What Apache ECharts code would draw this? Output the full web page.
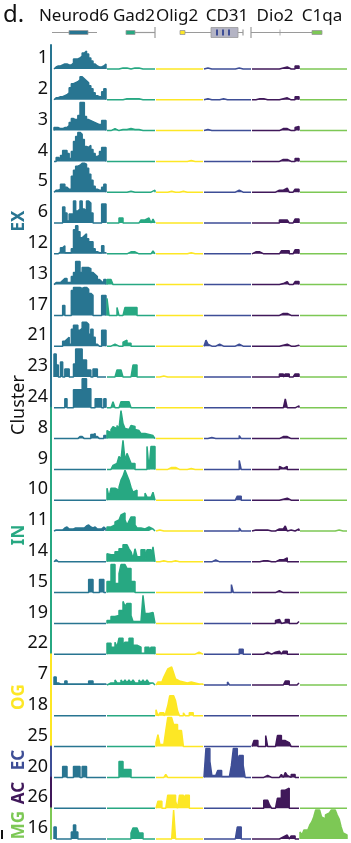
<!DOCTYPE html>
<html><head><meta charset="utf-8">
<script src="https://cdn.jsdelivr.net/npm/echarts@6/dist/echarts.min.js"></script>
<style>html,body{margin:0;padding:0;background:#fff}#c{width:351px;height:843px}</style>
</head><body><div id="c"></div>
<script>
const clusters = ['1','2','3','4','5','6','12','13','17','21','23','24','8','9','10','11','14','15','19','22','7','18','25','20','26','16'];
const rowGroup = ['EX','EX','EX','EX','EX','EX','EX','EX','EX','EX','EX','EX','IN','IN','IN','IN','IN','IN','IN','IN','OG','OG','OG','EC','AC','MG'];
const genes = ['Neurod6','Gad2','Olig2','CD31','Dio2','C1qa'];
const groupLabels = [['EX',221],['IN',535],['OG',697],['EC',760],['AC',793],['MG',825]];

const neurod6 = [
/*1*/ [2,3,3,4,5,5,4,4,6,10,10,11,13,16,18,15,11,8,5,3,2,2,3,5],
/*2*/ [2,2,3,3,4,5,7,12,16,17,18,20,23,21,19,17,14,11,7,4,3,3,8,11],
/*3*/ [3,3,2,2,3,3,5,8,12,11,11,15,28,28,14,11,10,9,8,7,6,6,10,10],
/*4*/ [0,4,2,6,11,11,8,3,10,20,25,29,27,22,15,14,16,12,8,5,6,10,14,14],
/*5*/ [2,2,3,8,8,5,3,3,16,22,26,27,29,29,28,24,18,12,6,3,2,2,5,8],
/*6*/ [0,0,0,0,16,10,2,9,9,22,12,14,22,14,12,22,20,10,0,0,0,0,19,19],
/*12*/ [0,0,2,6,8,1,1,1,5,24,28,22,16,18,20,15,12,12,5,2,1,1,8,1],
/*13*/ [2,2,2,4,6,6,2,2,8,12,23,23,12,17,17,17,16,12,10,8,5,3,2,5],
/*17*/ [0,0,0,0,10,0,0,0,25,28,28,28,27,28,28,26,22,20,0,0,0,0,20,20],
/*21*/ [0,0,0,0,5,7,9,2,17,21,21,16,18,24,24,22,12,17,9,2,0,0,16,16],
/*23*/ [23,12,0,15,0,8,8,0,0,13,28,28,28,17,17,7,7,0,8,8,0,0,0,0],
/*24*/ [0,0,0,0,0,9,0,0,0,18,18,18,18,29,29,19,19,0,0,9,9,9,0,9],
/*8*/ [0,0,0,0,0,0,0,0,0,0,0,2,2,0,0,0,0,4,5,2,0,0,0,3],
/*9*/ [],
/*10*/ [],
/*11*/ [1,1,1,1,3,4,2,2,2,3,3,3,3,3,5,6,4,3,4,2,2,2,4,2],
/*14*/ [2],
/*15*/ [0,0,0,0,0,0,0,0,0,0,0,0,0,0,0,0,13,13,0,0,0,13,13,0],
/*19*/ [],
/*22*/ [],
/*7*/ [8,2,1,1,1,4,1,1,1,1,1,1,1,1,1,1,4,4,1,1,1,1,1,1],
/*18*/ [],
/*25*/ [],
/*20*/ [0,0,0,0,11,11,0,0,0,11,11,11,0,11,11,0,0,0,0,0,0,0,0,0],
/*26*/ [],
/*16*/ [12,0,0,0,0,0,0,0,7,14,7,0,0,0,0,0,0,0,0,0,0,0,0,0]
];

const gad2 = [
/*1*/ [0,0,1,0,1,0,0,1,0,1,1,0,1,1,0,1,0,0,0,0,0,0,0,0],
/*2*/ [0,0,0,0,0,0,1,0,1,1,0,1,1,1,0,1,0,0,0,0,0,0,0,0],
/*3*/ [0,0,1,2,1,0,0,1,1,1,2,2,1,1,0,1,0,0,0,0,0,0,0,0],
/*4*/ [],
/*5*/ [0,0,0,0,0,0,0,0,0,0,0,1,1,0,0,0,0,0,0,0,0,0,0,2],
/*6*/ [0,0,0,0,0,0,5,5,0,0,0,0,0,0,0,0,0,3,3,3,5,5,0,4],
/*12*/ [0,0,0,0,0,0,0,0,0,0,0,2,2,2,0,0,0,0,0,0,0,0,0,3],
/*13*/ [5,5,5,0,0,0,0,0,0,0,0,0,0,0,0,0,0,0,0,0,0,0,0,0],
/*17*/ [17,0,0,0,0,8,0,0,0,8,8,8,8,8,8,0,0,0,0,0,0,0,0,0],
/*21*/ [0,0,0,2,2,0,0,0,4,6,3,3,0,0,0,0,0,0,0,0,0,0,0,0],
/*23*/ [0,0,0,0,0,7,7,7,0,0,0,0,0,12,12,0,0,0,0,0,0,0,0,0],
/*24*/ [0,0,0,6,0,0,0,6,6,6,6,6,0,0,0,0,0,0,0,0,0,0,0,0],
/*8*/ [8,6,9,12,10,13,10,28,15,10,9,11,13,12,9,8,7,5,5,4,4,3,3,3],
/*9*/ [0,0,0,4,6,8,13,10,29,9,16,11,6,6,0,0,0,0,0,0,23,0,23,23],
/*10*/ [12,3,12,12,10,10,13,20,24,30,25,20,13,8,10,3,3,3,3,7,3,3,3,8],
/*11*/ [4,4,3,6,9,11,13,16,18,11,6,10,14,14,6,3,3,2,2,2,4,2,2,2],
/*14*/ [8,7,7,7,10,10,13,13,17,17,17,13,10,3,13,5,5,12,12,3,12,12,3,15],
/*15*/ [11,11,28,28,9,9,19,28,28,28,24,24,11,11,0,0,0,0,0,0,0,0,0,0],
/*19*/ [3,3,7,7,8,8,13,13,22,17,20,20,8,2,2,2,2,2,28,10,10,11,11,11],
/*22*/ [11,11,7,7,12,7,16,16,9,12,12,16,16,9,9,7,7,1,1,7,7,1,7,7],
/*7*/ [2,2,2,2,5,2,2,5,2,5,2,5,2,5,2,2,5,2,5,2,5,2,2,2],
/*18*/ [],
/*25*/ [],
/*20*/ [0,0,0,0,0,0,16,16,8,8,8,8,0,0,0,0,0,0,0,0,0,0,0,0],
/*26*/ [],
/*16*/ [0,0,0,0,0,0,0,0,0,0,0,0,6,11,11,11,6,6,0,0,0,0,0,0]
];

const olig2 = [
/*1*/ [],
/*2*/ [],
/*3*/ [],
/*4*/ [0,0,0,0,0,0,0,0,0,0,0,0,0,0,0,0,0,1,0,0,0,0,0,0],
/*5*/ [0,0,0,0,0,0,0,1,0,0,0,0,0,1,0,0,0,0,1,0,0,0,0,0],
/*6*/ [0,0,0,0,0,0,0,0,0,0,1,0,0,0,0,0,1,0,0,0,0,0,0,0],
/*12*/ [0,0,0,0,0,0,0,0,0,0,0,0,0,0,0,0,0,1,1,0,0,0,0,0],
/*13*/ [],
/*17*/ [],
/*21*/ [],
/*23*/ [0,0,0,1,1,0,0,0,0,0,0,0,0,0,0,0,0,0,0,0,0,0,0,0],
/*24*/ [],
/*8*/ [0,0,0,0,1,0,0,0,0,0,1,0,0,0,0,0,0,0,0,0,0,0,0,0],
/*9*/ [0,0,0,0,0,0,0,2,2,2,1,0,0,0,0,0,0,1,0,0,0,0,0,0],
/*10*/ [0,0,0,0,1,0,0,0,0,0,0,0,0,0,0,0,0,0,0,0,0,0,0,0],
/*11*/ [0,1,0,0,0,0,1,0,0,0,0,0,1,0,0,0,0,0,0,0,0,0,0,0],
/*14*/ [0,0,0,1,0,0,0,0,0,1,0,0,0,0,0,0,0,0,0,0,0,0,0,0],
/*15*/ [],
/*19*/ [],
/*22*/ [0,0,0,0,0,0,0,0,0,0,0,0,0,0,0,0,0,0,0,0,0,2,2,0],
/*7*/ [1,3,3,5,8,12,16,18,18,12,6,4,3,3,3,2,3,3,2,2,2,1,1,1],
/*18*/ [6,0,3,3,0,3,10,20,20,22,15,5,0,0,3,0,0,3,3,0,0,0,0,0],
/*25*/ [4,12,2,2,4,16,29,29,29,22,22,16,16,16,0,0,0,0,0,0,0,0,0,0],
/*20*/ [0,0,0,0,0,3,0,0,0,0,0,0,0,0,0,0,0,0,0,0,0,0,0,0],
/*26*/ [0,7,7,0,0,0,13,13,13,13,7,0,13,13,7,13,13,0,0,0,0,0,0,0],
/*16*/ [0,0,0,0,0,0,0,0,0,29,0,0,0,0,0,0,0,0,0,0,0,0,0,0]
];

const cd31 = [
/*1*/ [0,1,1,0,0,0,0,0,0,0,0,0,0,0,0,0,0,1,1,0,0,0,0,0],
/*2*/ [0,1,0,0,0,0,0,0,0,1,0,0,0,0,0,0,0,0,0,0,0,0,0,0],
/*3*/ [0,1,0,0,0,0,0,0,1,0,0,0,0,0,0,0,0,0,1,0,0,0,0,0],
/*4*/ [2,0,0,0,0,0,0,0,0,0,0,0,0,0,0,0,0,0,0,0,0,0,0,0],
/*5*/ [0,0,0,0,0,0,0,0,0,0,0,0,0,0,0,0,2,2,1,0,0,0,0,0],
/*6*/ [],
/*12*/ [],
/*13*/ [],
/*17*/ [],
/*21*/ [0,6,2,0,0,0,0,2,0,0,0,0,0,0,0,0,0,2,2,0,0,0,0,0],
/*23*/ [],
/*24*/ [],
/*8*/ [0,0,0,1,0,0,0,0,0,0,0,0,0,0,0,0,0,0,3,0,0,0,0,0],
/*9*/ [0,0,0,0,0,0,0,0,0,0,0,0,0,0,0,0,0,0,9,0,0,0,0,0],
/*10*/ [0,0,0,0,0,0,0,0,0,0,0,0,0,0,0,0,0,4,4,0,0,0,0,0],
/*11*/ [0,0,0,0,0,0,0,0,2,0,0,0,0,0,0,0,0,0,3,0,0,2,0,0],
/*14*/ [0,0,0,0,2,2,2,0,0,0,0,0,0,0,0,0,0,0,0,0,0,0,0,0],
/*15*/ [0,0,0,0,0,0,0,0,0,0,0,0,0,0,8,0,0,0,0,0,0,0,0,0],
/*19*/ [],
/*22*/ [0,0,0,0,0,0,0,0,0,0,0,0,0,0,0,0,0,0,5,5,0,0,0,0],
/*7*/ [0,0,0,0,0,0,0,0,0,0,0,0,3,0,0,0,0,0,0,0,0,0,0,0],
/*18*/ [],
/*25*/ [],
/*20*/ [0,29,29,16,2,2,2,7,7,1,1,1,1,1,12,29,29,16,22,22,12,0,0,0],
/*26*/ [],
/*16*/ [0,0,0,0,0,0,0,0,0,0,0,0,0,0,0,0,0,12,12,0,0,0,0,0]
];

const dio2 = [
/*1*/ [0,0,0,0,1,0,1,0,0,0,0,0,0,0,0,1,2,2,1,0,0,0,3,3],
/*2*/ [0,0,0,1,0,1,0,0,1,0,0,0,0,0,0,1,1,2,2,0,0,0,3,3],
/*3*/ [0,0,0,0,0,0,0,0,0,0,0,0,0,0,1,2,2,2,2,0,0,0,3,4],
/*4*/ [0,0,0,0,0,0,0,0,0,0,0,0,0,0,1,2,2,2,0,0,0,0,3,3],
/*5*/ [0,0,0,0,0,0,0,0,0,0,0,0,0,2,2,2,0,4,4,0,0,0,3,3],
/*6*/ [0,0,0,0,0,0,0,0,0,0,0,0,0,0,3,3,1,3,3,0,0,0,4,4],
/*12*/ [1,2,1,2,1,0,0,0,0,0,0,0,0,0,0,3,3,5,3,0,0,0,4,4],
/*13*/ [0,0,0,0,0,0,0,0,0,0,0,0,0,0,0,1,3,3,1,0,0,0,3,3],
/*17*/ [0,0,0,0,0,0,0,0,0,0,0,0,0,0,2,2,1,2,2,0,0,0,0,0],
/*21*/ [0,0,0,0,0,0,0,0,0,0,0,0,0,0,2,1,2,2,0,0,0,0,1,1],
/*23*/ [0,0,0,0,0,0,0,0,0,0,0,0,0,0,3,3,0,3,3,0,0,0,3,3],
/*24*/ [0,0,0,0,0,0,0,0,0,0,0,0,0,0,0,0,0,9,0,0,0,0,2,2],
/*8*/ [1,0,0,0,0,0,0,0,0,0,0,0,0,0,0,2,2,2,0,0,0,0,0,0],
/*9*/ [0,0,0,0,0,0,0,0,0,0,0,0,0,0,3,1,1,3,0,0,0,0,0,0],
/*10*/ [0,0,0,0,0,0,0,0,0,0,0,0,0,0,2,1,1,2,0,0,0,0,0,0],
/*11*/ [1,1,1,1,1,1,1,1,1,0,0,0,0,2,2,2,0,5,0,1,0,0,2,2],
/*14*/ [0,0,0,0,0,1,1,1,1,0,0,0,2,2,2,2,4,4,0,0,0,0,0,0],
/*15*/ [0,0,0,0,0,0,0,0,0,0,0,0,0,2,0,0,0,0,0,0,0,0,0,0],
/*19*/ [0,0,0,0,0,0,0,0,0,0,0,0,3,4,3,0,1,4,4,0,0,0,0,2],
/*22*/ [0,0,0,0,0,0,0,2,2,0,0,2,3,3,2,0,3,3,0,0,0,0,0,0],
/*7*/ [2,0,0,0,0,0,0,0,0,0,0,0,0,0,0,0,0,4,4,0,0,0,0,2],
/*18*/ [],
/*25*/ [0,6,6,0,0,0,0,11,0,0,0,0,0,11,11,6,6,4,4,4,0,0,0,0],
/*20*/ [0,0,0,0,0,0,2,2,0,0,0,0,0,0,0,3,0,5,2,0,3,3,0,0],
/*26*/ [0,0,0,0,0,0,8,8,8,3,0,0,0,10,10,18,18,20,20,0,0,0,0,0],
/*16*/ [0,0,0,0,0,0,0,0,0,0,0,0,0,0,0,2,0,4,4,0,3,3,0,0]
];

const c1qa = [
/*1*/ [], /*2*/ [], /*3*/ [], /*4*/ [], /*5*/ [], /*6*/ [], /*12*/ [], /*13*/ [],
/*17*/ [], /*21*/ [], /*23*/ [], /*24*/ [], /*8*/ [], /*9*/ [], /*10*/ [],
/*11*/ [0,0,0,0,0,0,0,0,0,0,0,0,0,0,0,0,0,0,1,1,0,0,0,0],
/*14*/ [2,0,0,0,0,0,0,0,0,0,0,0,0,0,0,0,0,0,0,0,0,0,0,0],
/*15*/ [], /*19*/ [], /*22*/ [], /*7*/ [], /*18*/ [], /*25*/ [], /*20*/ [], /*26*/ [],
/*16*/ [7,4,9,9,9,14,17,22,29,29,27,22,20,24,26,27,29,29,28,24,20,12,6,4]
];

const tracks = [neurod6, gad2, olig2, cd31, dio2, c1qa];
const geneColors = ['#287591','#27a882','#fde725','#3e4e96','#40185a','#7dc855'];
const groupColors = {EX:'#287591', IN:'#27a882', OG:'#fde725', EC:'#3e4e96', AC:'#40185a', MG:'#7dc855'};
const geneSpan = [[54,106],[107,155],[156,203],[204,251],[252,299],[300,347]];
const geneLabelX = [74,134,177,227,275,322];
const NB = 24;
const FONT = '"Noto Sans", sans-serif';

const grids = [], xAxes = [], yAxes = [], series = [], graphics = [];
clusters.forEach((cl, r) => {
  const base = 69 + 30.8 * r;
  const h = r === 0 ? 24 : 30.8;
  grids.push({left: 51, width: 296, top: base - h, height: h});
  xAxes.push({type: 'value', gridIndex: r, min: 51, max: 347, show: false});
  yAxes.push({type: 'value', gridIndex: r, min: 0, max: h,
    axisLine: {show: true, lineStyle: {color: groupColors[rowGroup[r]], width: 2}},
    axisTick: {show: false}, axisLabel: {show: false}, splitLine: {show: false}});
  tracks.forEach((tr, g) => {
    const vals = tr[r];
    const s = geneSpan[g][0], e = geneSpan[g][1];
    const w = (e - s) / NB;
    const pts = [[s, 0]];
    for (let i = 0; i < NB; i++) pts.push([s + i * w, vals[i] || 0]);
    pts.push([e, vals[NB - 1] || 0]);
    pts.push([e, 0]);
    series.push({type: 'line', xAxisIndex: r, yAxisIndex: r, data: pts, step: 'end',
      symbol: 'none', showSymbol: false, clip: false, silent: true, animation: false,
      lineStyle: {color: geneColors[g], width: 1.5},
      areaStyle: {color: geneColors[g], opacity: 1}});
  });
  graphics.push({type: 'text', x: 48, y: base - 11,
    style: {text: cl, fill: '#111', font: '18px ' + FONT, textAlign: 'right', align: 'right', textVerticalAlign: 'middle', verticalAlign: 'middle'}});
});

groupLabels.forEach(([t, y]) => {
  graphics.push({type: 'text', x: 19, y: y, rotation: Math.PI / 2,
    style: {text: t, fill: groupColors[t], font: 'bold 17px ' + FONT, textAlign: 'center', align: 'center', textVerticalAlign: 'middle', verticalAlign: 'middle'}});
});
graphics.push({type: 'text', x: 19, y: 405, rotation: Math.PI / 2,
  style: {text: 'Cluster', fill: '#111', font: '18px ' + FONT, textAlign: 'center', align: 'center', textVerticalAlign: 'middle', verticalAlign: 'middle'}});

// header
graphics.push({type: 'text', x: 3, y: 15,
  style: {text: 'd.', fill: '#111', font: '24px ' + FONT, textAlign: 'left', align: 'left', textVerticalAlign: 'middle', verticalAlign: 'middle'}});
genes.forEach((gn, g) => {
  graphics.push({type: 'text', x: geneLabelX[g], y: 16,
    style: {text: gn, fill: '#111', font: '17px ' + FONT, textAlign: 'center', align: 'center', textVerticalAlign: 'middle', verticalAlign: 'middle'}});
});
const gray = '#9a9a9a';
const ln = (x1, y1, x2, y2, w) => ({type: 'line', shape: {x1, y1, x2, y2}, style: {stroke: gray, lineWidth: w || 1.2}});
const rc = (x, y, w, h, fill, stroke) => ({type: 'rect', shape: {x, y, width: w, height: h}, style: {fill, stroke: stroke || null, lineWidth: stroke ? 0.8 : 0}});
graphics.push(
  ln(52, 32.5, 97, 32.5), rc(69, 30.5, 19, 4, '#287591', gray),
  ln(126, 32.5, 155, 32.5), rc(126, 30.5, 9, 4, '#27a882', gray), ln(155, 27, 155, 38),
  ln(180, 32.5, 243, 32.5), rc(180, 30.5, 5, 4, '#fde725', gray),
  rc(211, 27.5, 27, 10, '#b4b4c4', gray), rc(216, 29.5, 2, 6, '#3e4e96'), rc(222, 29.5, 2, 6, '#3e4e96'), rc(228, 29.5, 2, 6, '#3e4e96'),
  ln(243, 29.5, 243, 35.5),
  ln(251, 27, 251, 38), ln(251, 32.5, 313, 32.5), ln(280, 29.5, 280, 35.5, 0.8),
  rc(312, 30.5, 10, 4, '#7dc855', gray),
  rc(1, 830, 2, 9, '#111')
);

const chart = echarts.init(document.getElementById('c'), null, {renderer: 'canvas'});
chart.setOption({animation: false, grid: grids, xAxis: xAxes, yAxis: yAxes, series: series, graphic: graphics});
</script></body></html>
